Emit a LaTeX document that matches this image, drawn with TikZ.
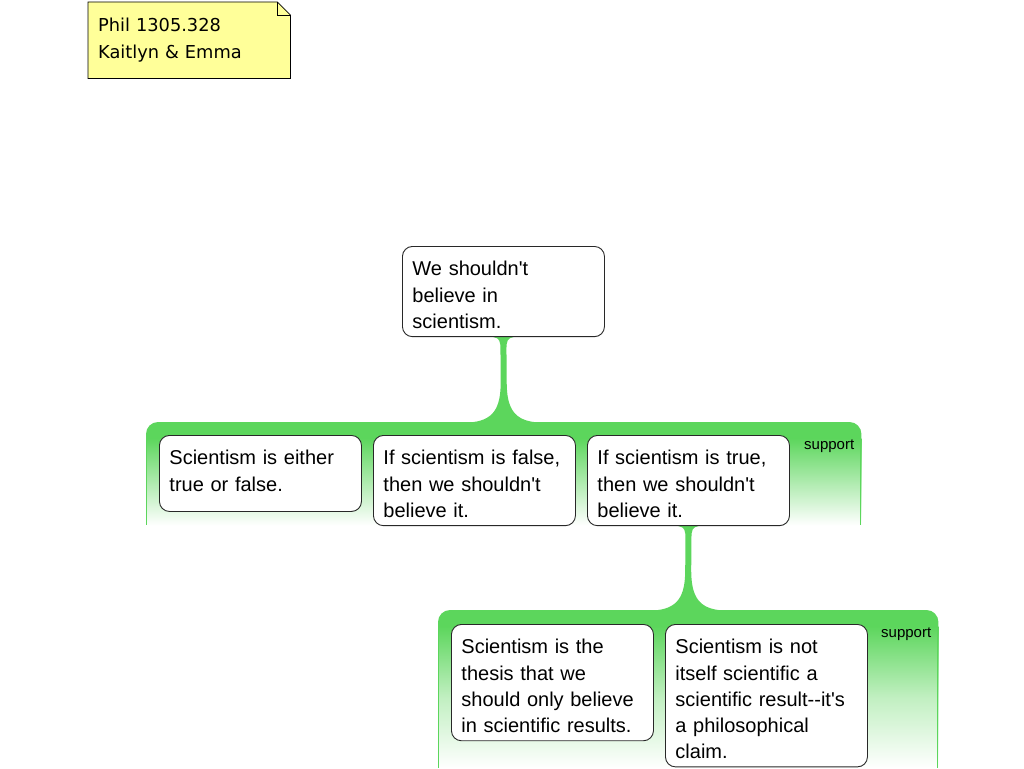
\documentclass[tikz,border=0pt]{standalone}
\usepackage{fontspec}
\setmainfont{Liberation Sans}[Ligatures=TeXOff]
\newfontfamily\notefont{DejaVu Sans}[Ligatures=TeXOff]
\usetikzlibrary{calc}
\pgfdeclarelayer{background}
\pgfsetlayers{background,main}
\definecolor{grn}{RGB}{92,214,92}
\definecolor{noteyellow}{RGB}{255,255,153}
\definecolor{boxline}{RGB}{40,40,40}
\newcommand\topstrut{\rule{0pt}{29.5pt}}
\newcommand\botstrut[1][8.5pt]{\rule[-#1]{0pt}{#1}}
\newcommand\mystem[2]{%
  \fill[grn] ($(#1)+(-10,0)$) .. controls ($(#1)+(-4,1)$) and ($(#1)+(-3,4)$) .. ($(#1)+(-3,12)$)
    -- ($(#2)+(-3,-40)$) .. controls ($(#2)+(-3,-14)$) and ($(#2)+(-10,-0.5)$) .. ($(#2)+(-36,0.5)$)
    -- ($(#2)+(36,0.5)$) .. controls ($(#2)+(10,-0.5)$) and ($(#2)+(3,-14)$) .. ($(#2)+(3,-40)$)
    -- ($(#1)+(3,12)$) .. controls ($(#1)+(3,4)$) and ($(#1)+(4,1)$) .. ($(#1)+(10,0)$) -- cycle;}
\newcommand\mygroup[2]{%
  \fill[grn, rounded corners=12pt] (#1.north west) rectangle ($(#1.north east)+(0,30)$);
  \shade[top color=grn, bottom color=white, middle color=grn!#2] ($(#1.north west)+(0,16)$) rectangle (#1.south east);
  \draw[grn, line width=1pt] ($(#1.north west)+(0.5,12)$) -- ($(#1.south west)+(0.5,0)$);
  \draw[grn, line width=1pt] ($(#1.north east)+(-0.5,12)$) -- ($(#1.south east)+(-0.5,0)$);}
\begin{document}
\begin{tikzpicture}[x=1pt,y=-1pt,
  claim/.style={draw=boxline, line width=0.9pt, fill=white, rounded corners=10pt,
    anchor=north west, inner xsep=10pt, inner ysep=0pt, text width=182pt, align=left,
    font=\fontsize{20pt}{26.1pt}\selectfont, minimum height=76pt},
  notebox/.style={anchor=north west, inner xsep=10pt, inner ysep=0pt, text width=182pt,
    minimum height=76pt, align=left, font=\notefont\fontsize{17.8pt}{27.6pt}\selectfont},
  grparea/.style={anchor=north west, inner sep=0pt, draw=none},
  lbl/.style={anchor=base east, inner sep=0pt, font=\fontsize{15pt}{17pt}\selectfont}]
\useasboundingbox (0,0) rectangle (1024,768);

\node[notebox] (note) at (88,2) {\rule{0pt}{29pt}Phil 1305.328\\Kaitlyn \& Emma\rule[-19.4pt]{0pt}{19.4pt}};

\node[claim] (top) at (402,246) {\topstrut We shouldn't\\believe in\\scientism.\botstrut};

\node[grparea, minimum width=715pt, minimum height=103pt] (g1) at (146,422) {};
\node[claim] (a) at (159,435) {\topstrut Scientism is either\\true or false.\botstrut[20.4pt]};
\node[claim] (b) at (373,435) {\topstrut If scientism is false,\\then we shouldn't\\believe it.\botstrut};
\node[claim] (c) at (587,435) {\topstrut If scientism is true,\\then we shouldn't\\believe it.\botstrut};
\node[lbl] (s1) at ($(g1.north east)+(-7,27)$) {support};

\node[grparea, minimum width=500pt, minimum height=158pt] (g2) at (438,610) {};
\node[claim] (d) at (451,624) {\topstrut Scientism is the\\thesis that we\\should only believe\\in scientific results.\botstrut};
\node[claim] (e) at (665,624) {\topstrut Scientism is not\\itself scientific a\\scientific result--it's\\a philosophical\\claim.\botstrut};
\node[lbl] (s2) at ($(g2.north east)+(-7,27)$) {support};

\begin{pgfonlayer}{background}
\fill[white] (0,0) rectangle (1024,768);
\filldraw[fill=noteyellow, draw=black, line width=0.8pt] (note.north west) -- ($(note.north east)+(-13,0)$) -- ($(note.north east)+(0,13)$) -- (note.south east) -- (note.south west) -- cycle;
\draw[line width=0.8pt] ($(note.north east)+(-13,0)$) -- ($(note.north east)+(-13,13)$) -- ($(note.north east)+(0,13)$);
\mygroup{g1}{50}
\mygroup{g2}{38}
\mystem{top.south}{g1.north}
\mystem{c.south}{g2.north}
\end{pgfonlayer}
\end{tikzpicture}
\end{document}
